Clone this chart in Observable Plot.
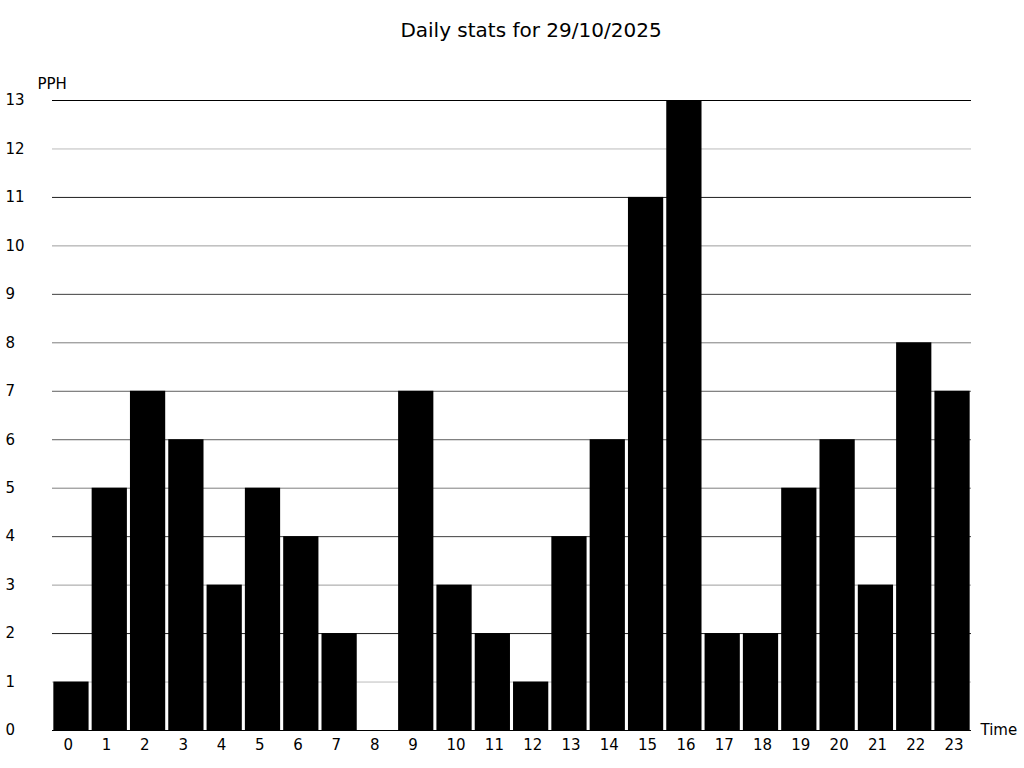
<!DOCTYPE html>
<html>
<head>
<meta charset="utf-8">
<script src="https://cdn.jsdelivr.net/npm/d3@7"></script>
<script src="https://cdn.jsdelivr.net/npm/@observablehq/plot@0.6"></script>
<style>
  html, body { margin: 0; padding: 0; background: #fff; }
  #wrap { position: relative; width: 1024px; height: 768px; font-family: "DejaVu Sans", sans-serif; }
  #title { position: absolute; left: 231px; width: 600px; top: 20px; text-align: center; font-size: 20px; line-height: 20px; color: #000; }
  svg { display: block; }
</style>
</head>
<body>
<div id="wrap">
  <div id="title">Daily stats for 29/10/2025</div>
  <div id="chart"></div>
</div>
<script>
const hours = [0,1,2,3,4,5,6,7,8,9,10,11,12,13,14,15,16,17,18,19,20,21,22,23];
const pph   = [1,5,7,6,3,5,4,2,0,7,3,2,1,4,6,11,13,2,2,5,6,3,8,7];
const yTicks = [0,1,2,3,4,5,6,7,8,9,10,11,12,13];
const yLabel = "PPH";
const xLabel = "Time";

const data = hours.map((h, i) => ({hour: h, value: pph[i]}));

function build(gridStroke) {
  return Plot.plot({
    width: 1024,
    height: 768,
    marginTop: 100,
    marginBottom: 38,
    marginLeft: 52,
    marginRight: 53,
    style: {fontFamily: "'DejaVu Sans', sans-serif", fontSize: "15px", color: "#000", background: "#fff"},
    x: {type: "band", domain: hours, paddingInner: 0.08, paddingOuter: 0.035, round: false},
    y: {domain: [0, 13]},
    marks: [
      Plot.ruleY(yTicks, {stroke: gridStroke, strokeWidth: 1}),
      Plot.barY(data, {x: "hour", y: "value", fill: "#000"}),
      Plot.axisY({ticks: yTicks, tickSize: 0, textAnchor: "start", dx: -38, fontSize: 15, label: null}),
      Plot.axisX({tickSize: 0, tickPadding: 9, textAnchor: "start", dx: -8, fontSize: 15, label: null}),
      Plot.text([yLabel], {frameAnchor: "top-left", text: d => d, dx: -15, dy: -16, textAnchor: "start", lineAnchor: "middle", fontSize: 15}),
      Plot.text([xLabel], {frameAnchor: "bottom-right", text: d => d, dx: 9, dy: 0, textAnchor: "start", lineAnchor: "middle", fontSize: 15})
    ]
  });
}

// First pass: get the y scale, then shade each grid line the way the
// reference's antialiasing renders a 1px line at a fractional position.
const probe = build("#000");
const yScale = probe.scale("y");
const shade = v => {
  const c = yScale.apply(v);
  const d = c - Math.floor(c);
  const m = Math.max(d, 1 - d);
  const g = Math.round(255 * Math.min(1, (1 - m) * 1.6));
  return d3.rgb(g, g, g).formatHex();
};
const chart = build(shade);
document.getElementById("chart").appendChild(chart);
</script>
</body>
</html>
